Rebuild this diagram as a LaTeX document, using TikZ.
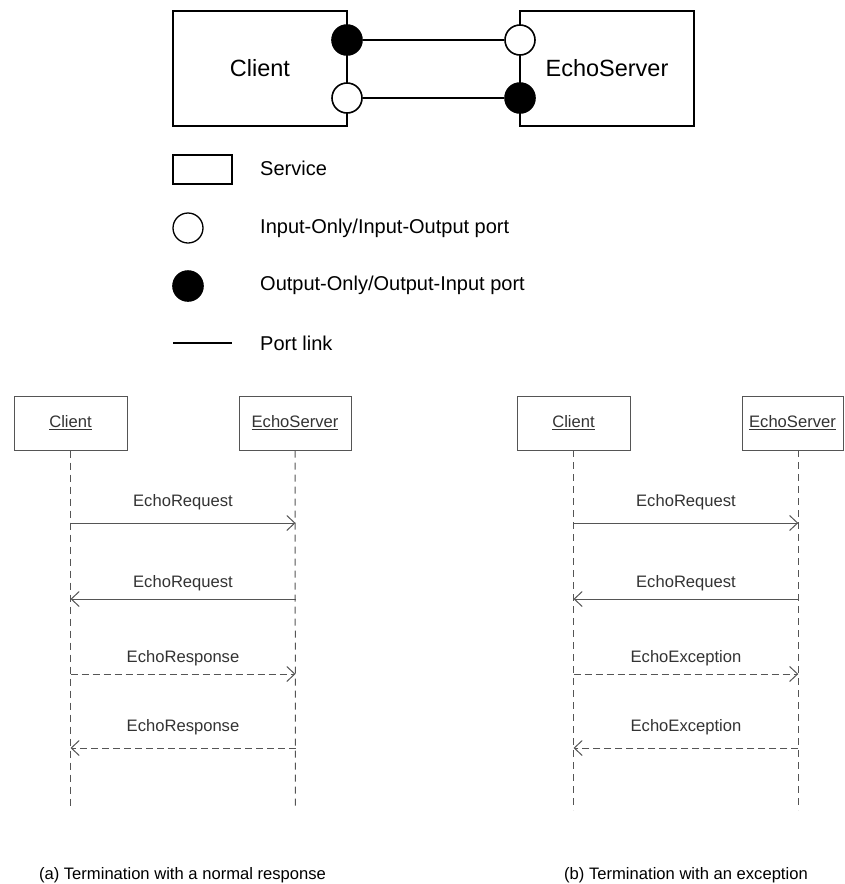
\documentclass[tikz,border=0pt]{standalone}
\usepackage{fontspec}
\setmainfont{Liberation Sans}
\usetikzlibrary{arrows.meta}
\definecolor{seqgray}{HTML}{555555}
\definecolor{seqtext}{HTML}{333333}
\tikzset{
  svc/.style={draw=black, line width=1.6pt, fill=white, font=\fontsize{23.5}{28}\selectfont, inner sep=0pt},
  inport/.style={circle, draw=black, line width=1.6pt, fill=white, minimum size=30pt, inner sep=0pt},
  outport/.style={circle, draw=black, line width=1.6pt, fill=black, minimum size=30pt, inner sep=0pt},
  plink/.style={draw=black, line width=1.6pt},
  legtext/.style={anchor=west, font=\fontsize{20}{24}\selectfont, inner sep=0pt},
  lifebox/.style={draw=seqgray, line width=1pt, fill=white, minimum height=54pt, inner sep=0pt, font=\fontsize{16.6}{20}\selectfont, text=seqtext},
  lifeline/.style={draw=seqgray, line width=1pt, dash pattern=on 7pt off 5pt},
  msg/.style={draw=seqgray, line width=1pt, -{Straight Barb[length=8pt,width=15pt,line width=1pt]}},
  rmsg/.style={msg, dash pattern=on 7pt off 4pt},
  msgtext/.style={font=\fontsize{16.6}{20}\selectfont, text=seqtext, inner sep=0pt},
  captext/.style={font=\fontsize{16.6}{20}\selectfont, text=black, inner sep=0pt}
}
\begin{document}
\begin{tikzpicture}[x=1pt,y=-1pt]
\useasboundingbox (0,0) rectangle (845,884);
% ---- Top composition ----
\node[svc, minimum width=174pt, minimum height=115pt] (client) at (260,68.5) {Client};
\node[svc, minimum width=174pt, minimum height=115pt] (server) at (607,68.5) {EchoServer};
\node[outport] (cout) at (347,40) {};
\node[inport]  (cin)  at (347,98) {};
\node[inport]  (sin)  at (520,40) {};
\node[outport] (sout) at (520,98) {};
\draw[plink] (cout) -- (sin);
\draw[plink] (cin) -- (sout);
% ---- Legend ----
\node[draw=black, line width=1.3pt, minimum width=59pt, minimum height=29pt, inner sep=0pt] (legsvc) at (202.5,169.5) {};
\node[legtext] (legsvct) at (260,168) {Service};
\node[inport, line width=1.3pt] (legin) at (188,228) {};
\node[legtext] (legint) at (260,228) {Input-Only/Input-Output port};
\node[outport] (legout) at (188,286) {};
\node[legtext] (legoutt) at (260,285) {Output-Only/Output-Input port};
\coordinate (lka) at (173,343);
\coordinate (lkb) at (232,343);
\draw[black, line width=1.3pt] (lka) -- (lkb);
\node[legtext] (legl) at (260,343) {Port link};
% ---- Sequence (a) ----
\node[lifebox, minimum width=113pt] (ac) at (70.5,423) {\underline{Client}};
\node[lifebox, minimum width=112pt] (as) at (295,423) {\underline{EchoServer}};
\coordinate (acEnd) at (70.5,810);
\coordinate (asEnd) at (295.5,810);
\draw[lifeline] (ac.south) -- (acEnd);
\draw[lifeline] (as.south) -- (asEnd);
\coordinate (ac1) at (70.5,523); \coordinate (as1) at (295.5,523);
\coordinate (ac2) at (70.5,599); \coordinate (as2) at (295.5,599);
\coordinate (ac3) at (70.5,674); \coordinate (as3) at (295.5,674);
\coordinate (ac4) at (70.5,748); \coordinate (as4) at (295.5,748);
\draw[msg] (ac1) -- (as1);
\draw[msg] (as2) -- (ac2);
\draw[rmsg] (ac3) -- (as3);
\draw[rmsg] (as4) -- (ac4);
\node[msgtext] (al1) at (183,502) {EchoRequest};
\node[msgtext] (al2) at (183,583) {EchoRequest};
\node[msgtext] (al3) at (183,658) {EchoResponse};
\node[msgtext] (al4) at (183,727) {EchoResponse};
\node[captext] (acap) at (182.5,875) {(a) Termination with a normal response};
% ---- Sequence (b) ----
\node[lifebox, minimum width=113pt] (bc) at (573.5,423) {\underline{Client}};
\node[lifebox, minimum width=101pt] (bs) at (792.5,423) {\underline{EchoServer}};
\coordinate (bcTop) at (573.5,450);
\coordinate (bsTop) at (798.3,450);
\coordinate (bcEnd) at (573.5,810);
\coordinate (bsEnd) at (798.3,810);
\draw[lifeline] (bcTop) -- (bcEnd);
\draw[lifeline] (bsTop) -- (bsEnd);
\coordinate (bc1) at (573.5,523); \coordinate (bs1) at (798.3,523);
\coordinate (bc2) at (573.5,599); \coordinate (bs2) at (798.3,599);
\coordinate (bc3) at (573.5,674); \coordinate (bs3) at (798.3,674);
\coordinate (bc4) at (573.5,748); \coordinate (bs4) at (798.3,748);
\draw[msg] (bc1) -- (bs1);
\draw[msg] (bs2) -- (bc2);
\draw[rmsg] (bc3) -- (bs3);
\draw[rmsg] (bs4) -- (bc4);
\node[msgtext] (bl1) at (686,502) {EchoRequest};
\node[msgtext] (bl2) at (686,583) {EchoRequest};
\node[msgtext] (bl3) at (686,658) {EchoException};
\node[msgtext] (bl4) at (686,727) {EchoException};
\node[captext] (bcap) at (686,875) {(b) Termination with an exception};
\end{tikzpicture}
\end{document}
